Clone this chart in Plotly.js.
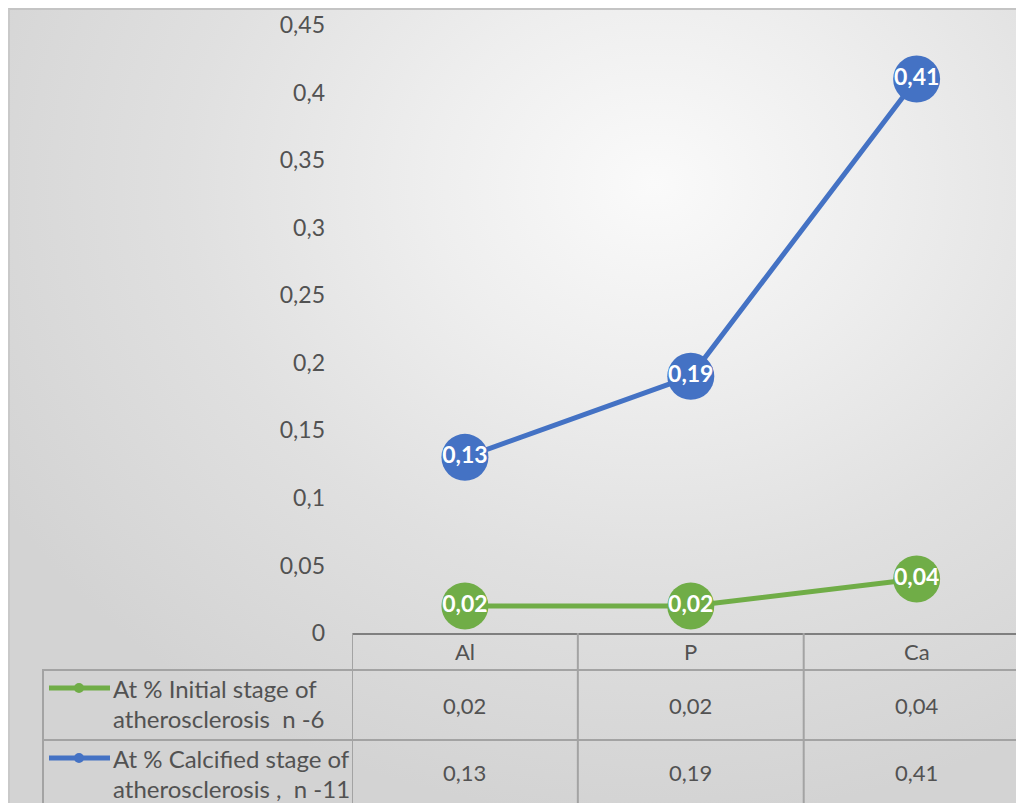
<!DOCTYPE html>
<html>
<head>
<meta charset="utf-8">
<script src="https://cdn.plot.ly/plotly-3.0.1.min.js"></script>
<style>
  html, body { margin: 0; padding: 0; background: #ffffff; width: 1016px; height: 803px; overflow: hidden; }
  #bg { position: absolute; left: 8px; top: 8px; width: 1008px; height: 795px;
        border-top: 2px solid #c4c4c4; border-left: 2px solid #c9c9c9; box-sizing: border-box;
        background: radial-gradient(ellipse 75% 80% at 64% 22%, #fafafa 0%, #eeeeee 30%, #e0e0e0 62%, #d3d3d3 100%); }
  #chart { position: absolute; left: 0; top: 0; width: 1016px; height: 803px; }
</style>
</head>
<body>
<div id="bg"></div>
<div id="chart"></div>
<script>
// ---- data ----
const categories = ["Al", "P", "Ca"];
const seriesInitialName = ["At % Initial stage of", "atherosclerosis  n -6"];
const seriesInitial = [0.02, 0.02, 0.04];
const seriesCalcifiedName = ["At % Calcified stage of", "atherosclerosis ,  n -11"];
const seriesCalcified = [0.13, 0.19, 0.41];
const yTickVals = [0, 0.05, 0.1, 0.15, 0.2, 0.25, 0.3, 0.35, 0.4, 0.45];
const yTickLabels = ["0", "0,05", "0,1", "0,15", "0,2", "0,25", "0,3", "0,35", "0,4", "0,45"];

// ---- helpers ----
const fmt = v => String(v).replace(".", ",");
const GREEN = "#70ad47", BLUE = "#4472c4";
const TXT = "#525252";
const FONT = "Lato, 'Open Sans', sans-serif";
const W = 1016, H = 803, ML = 352, MT = 25, MB = 170;
const plotH = H - MT - MB, plotW = W - ML;
const py = p => (H - MB - p) / plotH;   // pixel y -> paper y
const px = p => (p - ML) / plotW;       // pixel x -> paper x

const traces = [
  { x: categories, y: seriesInitial, type: "scatter", mode: "lines+markers+text",
    name: seriesInitialName.join(" "),
    line: { color: GREEN, width: 5 }, marker: { color: GREEN, size: 47 },
    text: seriesInitial.map(fmt), textposition: "middle center",
    textfont: { color: "#ffffff", size: 23, family: FONT, weight: "bold" },
    cliponaxis: false, hoverinfo: "skip" },
  { x: categories, y: seriesCalcified, type: "scatter", mode: "lines+markers+text",
    name: seriesCalcifiedName.join(" "),
    line: { color: BLUE, width: 5 }, marker: { color: BLUE, size: 47 },
    text: seriesCalcified.map(fmt), textposition: "middle center",
    textfont: { color: "#ffffff", size: 23, family: FONT, weight: "bold" },
    cliponaxis: false, hoverinfo: "skip" }
];

// ---- data table (grid + texts) ----
const GRID = "#a3a3a3";
const shapes = [];
const annotations = [];
const rowTop = [670, 740];          // pixel tops of data rows
const rowBottom = [740, 806];
// horizontal lines
[670, 740].forEach(p => shapes.push({ type: "line", xref: "paper", yref: "paper",
  x0: px(42), x1: 1, y0: py(p), y1: py(p), line: { color: GRID, width: 2 } }));
// legend column left border
shapes.push({ type: "line", xref: "paper", yref: "paper", x0: px(43), x1: px(43),
  y0: py(670), y1: py(803), line: { color: GRID, width: 2 } });
// category boundaries
for (let i = 0; i <= categories.length; i++) {
  shapes.push({ type: "line", xref: "x", yref: "paper", x0: i - 0.5, x1: i - 0.5,
    y0: 0, y1: py(803), line: { color: GRID, width: 2 } });
}
// category labels
categories.forEach((c, i) => annotations.push({ xref: "x", yref: "paper", x: c, y: py(651),
  yanchor: "middle", xanchor: "center",
  text: c, showarrow: false, font: { size: 22, color: TXT, family: FONT } }));
// values
[seriesInitial, seriesCalcified].forEach((s, r) => s.forEach((v, i) => annotations.push({
  xref: "x", yref: "paper", x: categories[i], y: py((rowTop[r] + rowBottom[r]) / 2),
  yanchor: "middle", xanchor: "center",
  text: fmt(v), showarrow: false, font: { size: 22, color: TXT, family: FONT } })));
// legend keys + names
[[seriesInitialName, GREEN, 688], [seriesCalcifiedName, BLUE, 758]].forEach(([name, col, y]) => {
  shapes.push({ type: "line", xref: "paper", yref: "paper", x0: px(49), x1: px(110),
    y0: py(y), y1: py(y), line: { color: col, width: 5 } });
  shapes.push({ type: "circle", xref: "paper", yref: "paper", x0: px(74), x1: px(84),
    y0: py(y - 5), y1: py(y + 5), fillcolor: col, line: { color: col, width: 0 } });
  name.forEach((t, k) => annotations.push({ xref: "paper", yref: "paper", x: px(111),
    y: py(y + k * 30), xanchor: "left", yanchor: "middle", align: "left", text: t,
    showarrow: false, font: { size: 24, color: TXT, family: FONT } }));
});

const layout = {
  width: W, height: H,
  margin: { l: ML, r: 0, t: MT, b: MB, pad: 0 },
  paper_bgcolor: "rgba(0,0,0,0)", plot_bgcolor: "rgba(0,0,0,0)",
  showlegend: false,
  separators: ",.",
  font: { family: FONT, color: TXT, size: 22 },
  xaxis: { type: "category", range: [-0.5, 2.44], showticklabels: false, ticks: "",
    showgrid: false, zeroline: false, showline: true, linecolor: "#7f7f7f", linewidth: 2,
    fixedrange: true },
  yaxis: { range: [0, 0.45], tickvals: yTickVals, ticktext: yTickLabels, ticks: "",
    showgrid: false, zeroline: false, showline: false, ticklabelstandoff: 26,
    tickfont: { size: 23, color: TXT, family: FONT }, fixedrange: true },
  shapes: shapes,
  annotations: annotations
};

Plotly.newPlot("chart", traces, layout, { displayModeBar: false, staticPlot: true });
</script>
</body>
</html>
